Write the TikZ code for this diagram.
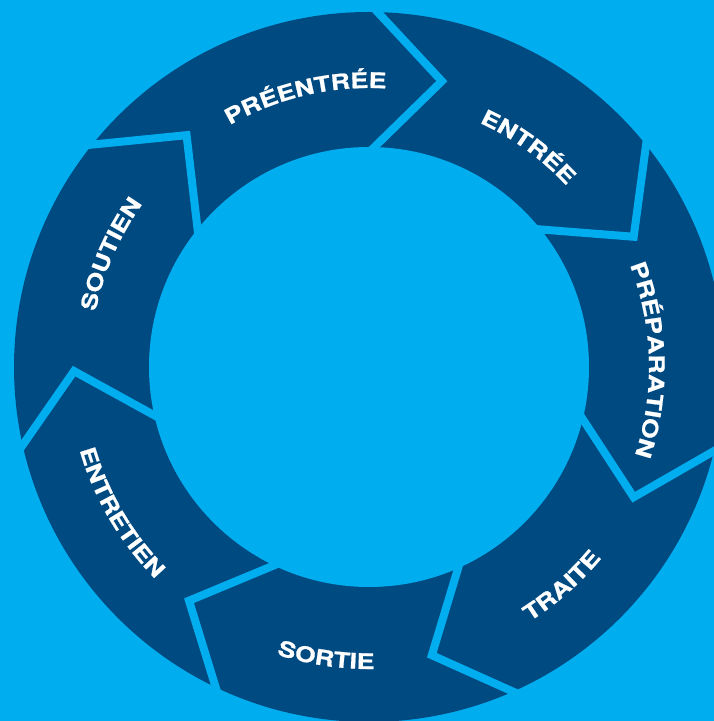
\documentclass[tikz,border=0pt]{standalone}
\usepackage{fontspec}
\newfontfamily\lblfont{TeX Gyre Heros}[FakeStretch=1.24,FakeBold=0.8]
\usetikzlibrary{decorations.text,calc}
\definecolor{bgblue}{RGB}{0,174,239}
\definecolor{ringblue}{RGB}{0,74,130}
\newcommand\lblfmt{\lblfont\bfseries\fontsize{21.5}{25}\selectfont\color{white}}
\tikzset{
  gapline/.style={draw=bgblue, line width=8pt, line join=miter, miter limit=20},
}
\begin{document}
\begin{tikzpicture}[x=1pt,y=1pt]
\useasboundingbox (0,0) rectangle (714,721);
\fill[bgblue] (0,0) rectangle (714,721);
\clip (0,0) rectangle (714,721);
\coordinate (c) at (369,354);
\fill[ringblue] (c) circle[radius=355];
\fill[bgblue] (c) circle[radius=220];
\foreach \b/\t in {88.6/75.7, 38.7/26.2, -13.7/-26.2, -66.1/-77.7, -115.6/-127.6, -167.3/-179.2, 141.2/128.2}{
  \coordinate (o) at ($(c)+(\b:355)$);
  \coordinate (p) at ($(c)+(\t:295)$);
  \coordinate (i) at ($(c)+(\b:220)$);
  \draw[gapline] ($(p)!1.35!(o)$) -- (p) -- ($(p)!1.35!(i)$);
}
% clockwise labels, tops outward
\foreach \name/\ang/\rad in {PRÉENTRÉE/103.2/279, ENTRÉE/54.1/268, PRÉPARATION/1.5/280, SOUTIEN/156.4/279}{
  \path[decorate, decoration={text along path, text align=center, text={|\lblfmt|\name}}]
    ([shift={(\ang+45:\rad)}]c) arc[start angle=\ang+45, end angle=\ang-45, radius=\rad];
}
% counter-clockwise labels, tops inward
\foreach \name/\ang/\rad in {TRAITE/-48.6/301, SORTIE/-98.4/302, ENTRETIEN/-149.6/301}{
  \path[decorate, decoration={text along path, text align=center, text={|\lblfmt|\name}}]
    ([shift={(\ang-45:\rad)}]c) arc[start angle=\ang-45, end angle=\ang+45, radius=\rad];
}
\end{tikzpicture}
\end{document}
